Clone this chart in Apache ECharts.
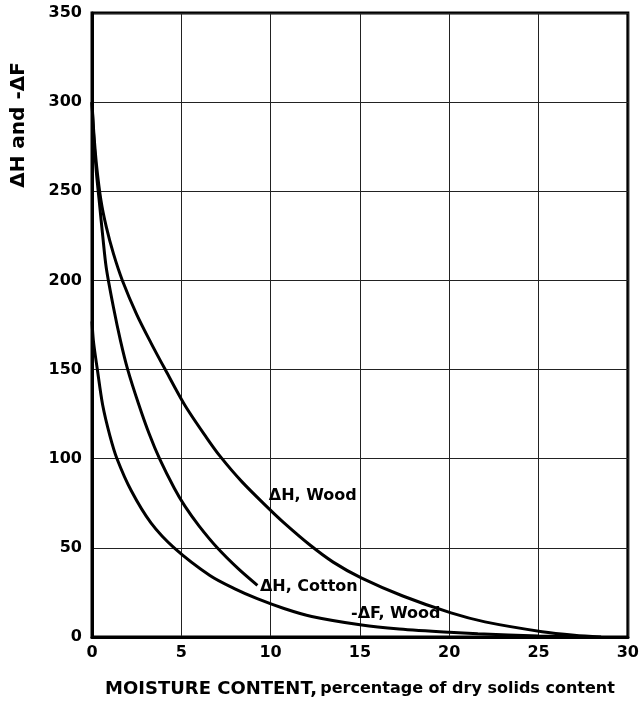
<!DOCTYPE html>
<html>
<head>
<meta charset="utf-8">
<script src="https://cdn.jsdelivr.net/npm/echarts@6/dist/echarts.min.js"></script>
<style>
  html, body { margin: 0; padding: 0; background: #fff; }
  #chart { width: 642px; height: 704px; }
</style>
</head>
<body>
<div id="chart"></div>
<script>
// Curves: [moisture %, value]
const woodDH = [
    [0, 300], [0.1, 283], [0.25, 265], [0.5, 245], [0.8, 230], [1.2, 215], [1.7, 200],
    [2.5, 181], [3.3, 165], [4.1, 150], [5.2, 130], [6.4, 112], [7.2, 101], [8.4, 87],
    [9.9, 72], [10.75, 64], [12.15, 52], [13.5, 42], [15.1, 33], [17.4, 23], [20.1, 13.5],
    [22, 8.5], [25.2, 3], [27, 1], [28.5, 0]
];
const cottonDH = [
    [0, 300], [0.1, 280], [0.25, 260], [0.4, 245], [0.6, 225], [0.8, 207], [1.2, 185],
    [1.6, 166], [2.0, 150], [2.6, 131], [3.2, 114], [3.8, 99.6], [4.6, 83.6], [5.2, 73.4],
    [6.0, 62.2], [7.0, 50.2], [8.2, 38.2], [9.26, 29]
];
const woodDF = [
    [0, 177], [0.08, 166], [0.3, 150], [0.6, 130], [1.0, 113], [1.4, 100], [2.2, 82],
    [3.3, 64], [4.6, 50], [6.6, 34.5], [8, 27], [9.25, 21.5], [10.75, 16], [12.3, 11.5],
    [15.1, 6.7], [17.2, 4.5], [20, 2.6], [21.6, 1.8], [25, 0.6], [28, 0]
];
const curveNames = ['\u0394H, Wood', '\u0394H, Cotton', '-\u0394F, Wood'];
// label anchors in data units
const labelAnchors = [[9.9, 79], [9.4, 28], [14.5, 13]];

const font = 'DejaVu Sans';

function curve(name, data, anchor) {
    return {
        name: name,
        type: 'line',
        data: data,
        smooth: 0.3,
        symbol: 'none',
        lineStyle: { color: '#000', width: 3 },
        markPoint: {
            symbol: 'circle',
            symbolSize: 0,
            data: [{ coord: anchor }],
            label: {
                show: true,
                formatter: name,
                position: 'right',
                distance: 0,
                color: '#000',
                fontFamily: font,
                fontWeight: 'bold',
                fontSize: 16
            }
        }
    };
}

const chart = echarts.init(document.getElementById('chart'), null, { renderer: 'canvas' });
chart.setOption({
    backgroundColor: '#fff',
    animation: false,
    grid: {
        left: 92, right: 13, top: 13, bottom: 67,
        show: true, borderColor: '#000', borderWidth: 3
    },
    xAxis: {
        type: 'value',
        min: 0, max: 30, interval: 5,
        axisLine: { lineStyle: { color: '#000', width: 3 } },
        axisTick: { show: false },
        axisLabel: { color: '#000', fontFamily: font, fontWeight: 'bold', fontSize: 16, margin: 8 },
        splitLine: { show: true, lineStyle: { color: '#222', width: 1 } },
        name: '{a|MOISTURE CONTENT,} {b|percentage of dry solids content}',
        nameLocation: 'middle',
        nameGap: 43,
        nameTextStyle: {
            rich: {
                a: { fontFamily: font, fontWeight: 'bold', fontSize: 18, color: '#000' },
                b: { fontFamily: font, fontWeight: 'bold', fontSize: 16, color: '#000' }
            }
        }
    },
    yAxis: {
        type: 'value',
        min: 0, max: 350, interval: 50,
        axisLine: { show: true, lineStyle: { color: '#000', width: 3 } },
        axisTick: { show: false },
        axisLabel: { color: '#000', fontFamily: font, fontWeight: 'bold', fontSize: 16, margin: 10 },
        splitLine: { show: true, lineStyle: { color: '#222', width: 1 } }
    },
    graphic: [{
        type: 'text',
        x: 19, y: 125,
        rotation: Math.PI / 2,
        style: {
            text: '\u0394H and -\u0394F',
            fill: '#000',
            font: 'bold 20px "DejaVu Sans"',
            align: 'center',
            verticalAlign: 'middle'
        }
    }],
    series: [
        curve(curveNames[0], woodDH, labelAnchors[0]),
        curve(curveNames[1], cottonDH, labelAnchors[1]),
        curve(curveNames[2], woodDF, labelAnchors[2])
    ]
});
</script>
</body>
</html>
